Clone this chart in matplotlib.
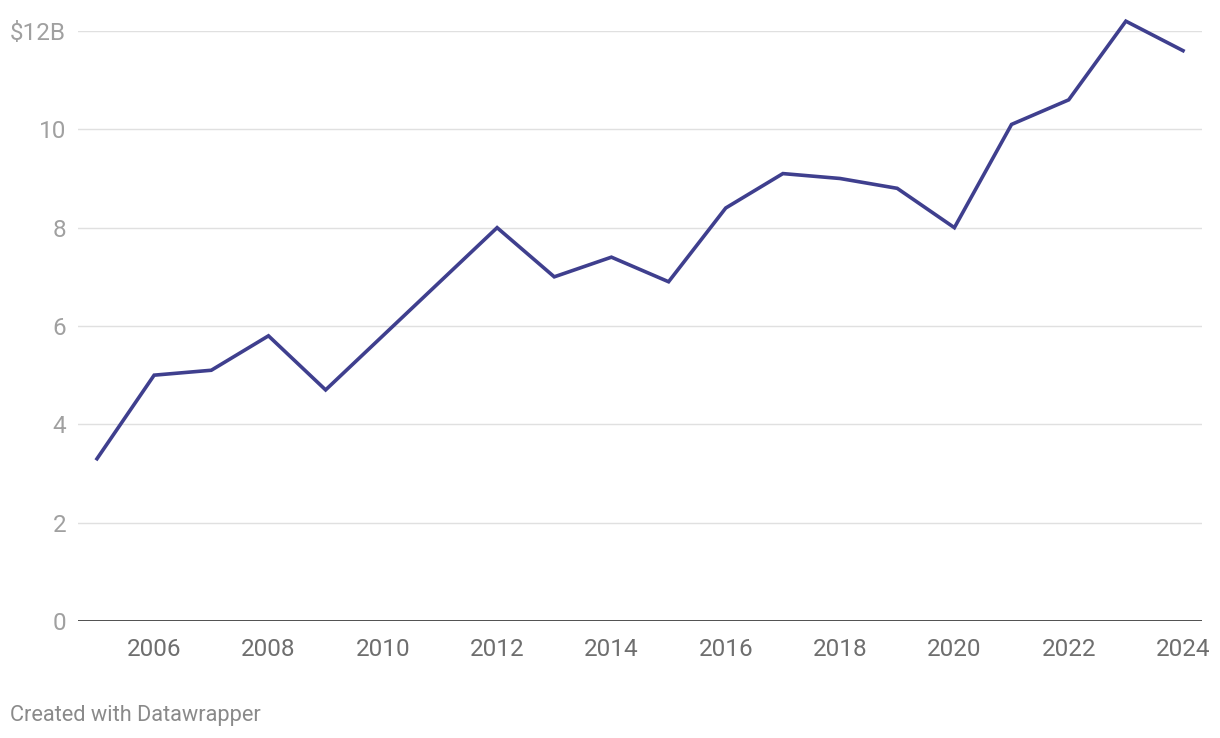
import matplotlib.pyplot as plt

plt.rcParams['font.family'] = ['Roboto', 'DejaVu Sans']

# Data (billions of dollars)
years = [2005, 2006, 2007, 2008, 2009, 2010, 2011, 2012, 2013, 2014,
         2015, 2016, 2017, 2018, 2019, 2020, 2021, 2022, 2023, 2024]
values = [3.3, 5.0, 5.1, 5.8, 4.7, 5.8, 6.9, 8.0, 7.0, 7.4,
          6.9, 8.4, 9.1, 9.0, 8.8, 8.0, 10.1, 10.6, 12.2, 11.6]
y_ticks = [0, 2, 4, 6, 8, 10, 12]
y_labels = ['0', '2', '4', '6', '8', '10', '$12B']
x_ticks = [2006, 2008, 2010, 2012, 2014, 2016, 2018, 2020, 2022, 2024]

fig = plt.figure(figsize=(12.2, 7.38), dpi=100)
ax = fig.add_axes([78 / 1220, 117 / 738, 1124 / 1220, 590 / 738])

# gridlines
for t in y_ticks[1:]:
    ax.axhline(t, color='#e0e0e0', lw=1, zorder=1)
ax.axhline(0, color='#1a1a1a', lw=1.8, zorder=3)

ax.plot(years, values, color='#3f3f8e', lw=2.6, zorder=4,
        solid_joinstyle='miter', clip_on=False)

ax.set_xlim(2004.668, 2024.332)
ax.set_ylim(0, 12)

ax.set_yticks(y_ticks)
ax.set_yticklabels(y_labels)
ax.set_xticks(x_ticks)
ax.set_xticklabels([str(x) for x in x_ticks])

ax.tick_params(axis='y', length=0, pad=8.5, labelsize=17.5, labelcolor='#a0a0a0')
ax.tick_params(axis='x', length=0, pad=12, labelsize=17.5, labelcolor='#6e6e6e')
for s in ax.spines.values():
    s.set_visible(False)

fig.text(10 / 1220, 1 - 715 / 738, 'Created with Datawrapper',
         fontsize=15.7, color='#8a8a8a', va='center', ha='left')

fig.savefig('out.png', dpi=100, facecolor='white')
